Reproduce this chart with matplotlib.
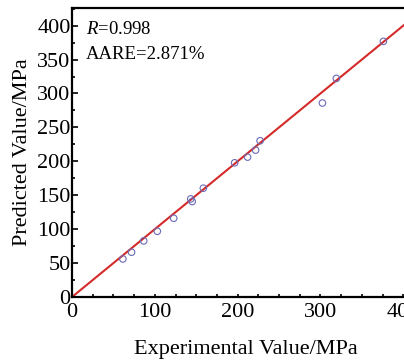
import matplotlib.pyplot as plt
from matplotlib.ticker import MultipleLocator

# measured vs predicted flow stress (MPa)
exp_val = [61.4, 71.9, 86.6, 103.0, 122.8, 143.4, 145.1, 158.6, 196.4,
           212.0, 221.7, 227.1, 302.4, 319.2, 376.0]
pred_val = [56.1, 66.0, 82.7, 96.9, 116.1, 144.6, 140.7, 160.4, 197.8,
            206.2, 216.5, 230.3, 285.9, 322.2, 376.8]
r_val = 0.998
aare = 2.871

plt.rcParams['font.family'] = ['Liberation Serif', 'DejaVu Serif']
plt.rcParams['mathtext.fontset'] = 'custom'
plt.rcParams['mathtext.it'] = 'Liberation Serif:italic'
plt.rcParams['mathtext.rm'] = 'Liberation Serif'

fig = plt.figure(figsize=(4.04, 3.63), dpi=100)
ax = fig.add_axes([72/404, 66/363, 347/404, 289/363])

ax.plot([0, 440], [0, 440], color='#d42a2a', lw=1.5, zorder=2)
ax.scatter(exp_val, pred_val, s=22, facecolors='none', edgecolors='#6a6ab8',
           linewidths=0.8, zorder=3)

ax.set_xlim(0, 419)
ax.set_ylim(0, 426)
ax.xaxis.set_major_locator(MultipleLocator(100))
ax.xaxis.set_minor_locator(MultipleLocator(25))
ax.yaxis.set_major_locator(MultipleLocator(50))
ax.yaxis.set_minor_locator(MultipleLocator(25))
ax.tick_params(which='both', direction='in', top=False, right=False,
               labelsize=16, width=1.2, pad=1)
ax.tick_params(axis='x', which='both', pad=4)
ax.tick_params(axis='y', which='major', length=4)
ax.tick_params(axis='x', which='major', length=2.5)
ax.tick_params(which='minor', length=2)
for s in ax.spines.values():
    s.set_linewidth(1.6)

ax.set_xlabel('Experimental Value/MPa', fontsize=16, labelpad=13)
ax.set_ylabel('Predicted Value/MPa', fontsize=16, labelpad=4)

ax.text(0.04, 0.955, f'$R$={r_val}', transform=ax.transAxes, fontsize=13.5,
        va='top', ha='left')
ax.text(0.04, 0.87, f'AARE={aare}%', transform=ax.transAxes, fontsize=13.5,
        va='top', ha='left')

fig.savefig('out.png', dpi=100)
